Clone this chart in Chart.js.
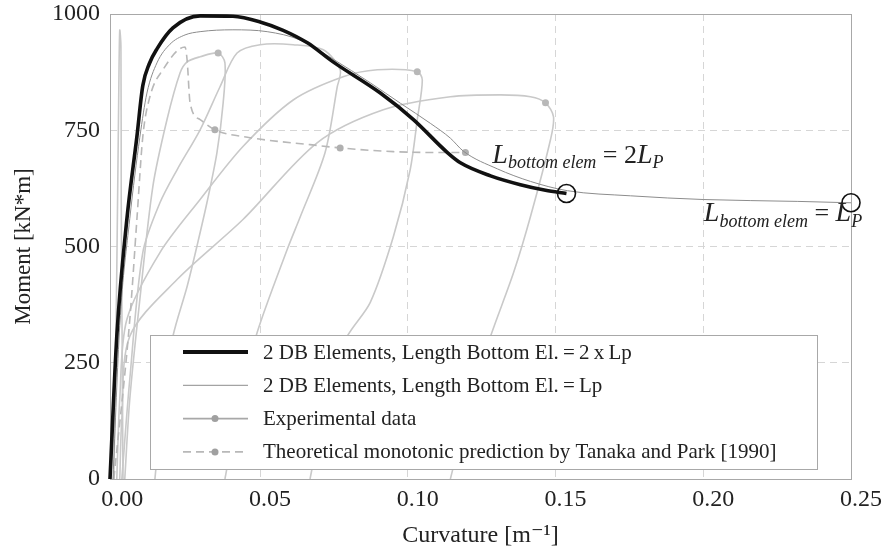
<!DOCTYPE html>
<html>
<head>
<meta charset="utf-8">
<script src="https://cdn.jsdelivr.net/npm/chart.js@4.4.1/dist/chart.umd.min.js"></script>
<style>
html,body{margin:0;padding:0;background:#fff;}
#wrap{width:886px;height:554px;}
</style>
</head>
<body>
<div id="wrap"><canvas id="momentChart" width="886" height="554"></canvas></div>
<script>

const xTicks = [0, 0.05, 0.10, 0.15, 0.20, 0.25];
const yTicks = [0, 250, 500, 750, 1000];

// 2 DB elements, bottom element = 2 x Lp
const twoLpX = [-0.0008, 0.0015, 0.0049, 0.0083, 0.0103, 0.0125, 0.0151, 0.0205, 0.0297, 0.0408, 0.05, 0.0578, 0.066, 0.0747, 0.0907, 0.1019, 0.1134, 0.1178, 0.128, 0.1381, 0.1466, 0.1537];
const twoLpY = [0, 307, 558, 736, 846, 893, 925, 970, 996, 995, 983, 965, 938, 897, 830, 773, 702, 680, 652, 633, 621, 614];

// 2 DB elements, bottom element = Lp
const oneLpX = [0.0002, 0.0025, 0.0059, 0.0093, 0.0117, 0.0151, 0.0195, 0.0246, 0.0297, 0.0408, 0.0524, 0.0636, 0.0747, 0.0873, 0.0975, 0.1076, 0.1144, 0.1188, 0.1303, 0.1415, 0.154, 0.1754, 0.2002, 0.232, 0.25];
const oneLpY = [0, 330, 560, 735, 830, 895, 935, 955, 962, 966, 962, 944, 903, 852, 808, 765, 733, 705, 667, 640, 620, 609, 601, 597, 594];

// Tanaka and Park monotonic prediction
const theoX = [0.0005, 0.0059, 0.0083, 0.0103, 0.0127, 0.0171, 0.0246, 0.0253, 0.0263, 0.0297, 0.0347, 0.0466, 0.0669, 0.0771, 0.0951, 0.1144, 0.1195];
const theoY = [0, 343, 558, 736, 822, 880, 929, 901, 809, 773, 751, 734, 719, 712, 704, 702, 702];
const theoDots = [10, 13, 16];

// experimental cycles (positive branch only)
const expX = [
[0.0005, 0.0015, 0.0022, 0.0025, 0.0029, 0.003, 0.0033, 0.0036],
[0.0042, 0.0059, 0.0093, 0.0137, 0.0185, 0.0229, 0.0253, 0.0297, 0.0358, 0.0381, 0.0375, 0.0354, 0.032, 0.0286, 0.0253, 0.0205, 0.0171, 0.0144],
[0.0032, 0.0059, 0.0103, 0.0161, 0.0219, 0.0297, 0.0364, 0.0422, 0.05, 0.0612, 0.0714, 0.0771, 0.0761, 0.072, 0.0636, 0.0592, 0.049, 0.0432, 0.0381],
[0.0015, 0.0025, 0.0049, 0.0161, 0.0297, 0.0442, 0.0612, 0.0781, 0.0897, 0.1032, 0.1049, 0.1032, 0.1008, 0.0951, 0.0873, 0.0795, 0.0737, 0.0669],
[0.0025, 0.0032, 0.0059, 0.0219, 0.0442, 0.0693, 0.0917, 0.1144, 0.1314, 0.1415, 0.1466, 0.1493, 0.1483, 0.1415, 0.1358, 0.128, 0.1212, 0.1144]
];
const expY = [
[0, 450, 850, 965, 930, 600, 300, 0],
[0, 172, 386, 629, 773, 873, 897, 908, 916, 895, 809, 702, 594, 500, 414, 307, 172, 0],
[0, 215, 487, 594, 665, 751, 843, 916, 934, 934, 923, 880, 843, 702, 564, 494, 315, 172, 0],
[0, 172, 343, 487, 601, 715, 815, 865, 880, 876, 858, 773, 665, 521, 380, 307, 215, 0],
[0, 129, 307, 429, 558, 723, 794, 822, 826, 822, 809, 779, 730, 564, 444, 307, 172, 0]
];
const expDots = [-1, 8, -1, 9, 10];

const legendLabels = [
'2 DB Elements, Length Bottom El.\u2009=\u20092\u2009x\u2009Lp',
'2 DB Elements, Length Bottom El.\u2009=\u2009Lp',
'Experimental data',
'Theoretical monotonic prediction by Tanaka and Park [1990]'
];

const serif = "'Liberation Serif', 'DejaVu Serif', serif";

function toPoints(xs, ys){
let pts = [];
for(let i=0;i<xs.length;i++){
pts.push({x:xs[i], y:ys[i]});
}
return pts;
}

let datasets = [];

datasets.push({
label:legendLabels[0],
data:toPoints(twoLpX,twoLpY),
borderColor:'#111',
borderWidth:3.6,
cubicInterpolationMode:'monotone',
pointRadius:c => c.dataIndex === twoLpX.length-1 ? 9 : 0,
pointBorderColor:'#111',
pointBorderWidth:1.6,
pointBackgroundColor:'rgba(0,0,0,0)',
clip:false,
order:0
});

datasets.push({
label:legendLabels[1],
data:toPoints(oneLpX,oneLpY),
borderColor:'#8c8c8c',
borderWidth:1,
cubicInterpolationMode:'monotone',
pointRadius:c => c.dataIndex === oneLpX.length-1 ? 9 : 0,
pointBorderColor:'#111',
pointBorderWidth:1.6,
pointBackgroundColor:'rgba(0,0,0,0)',
clip:false,
order:1
});

datasets.push({
label:legendLabels[3],
data:toPoints(theoX,theoY),
borderColor:'#b8b8b8',
borderWidth:1.6,
borderDash:[8,5],
cubicInterpolationMode:'monotone',
pointRadius:c => theoDots.includes(c.dataIndex) ? 3.5 : 0,
pointBackgroundColor:'#b0b0b0',
pointBorderWidth:0,
order:2
});

for(let i=0;i<expX.length;i++){
datasets.push({
label:legendLabels[2],
data:toPoints(expX[i],expY[i]),
borderColor:'#c9c9c9',
borderWidth:1.6,
tension:0.3,
pointRadius:c => c.dataIndex === expDots[i] ? 3.5 : 0,
pointBackgroundColor:'#b8b8b8',
pointBorderWidth:0,
order:3
});
}

const frameBox = {
id:'frameBox',
beforeDatasetsDraw(chart){
let a = chart.chartArea;
let ctx = chart.ctx;
ctx.save();
ctx.strokeStyle = '#a8a8a8';
ctx.lineWidth = 1;
ctx.strokeRect(a.left+0.5, a.top+0.5, a.right-a.left, a.bottom-a.top);
ctx.restore();
}
};

const legendBox = {
id:'legendBox',
afterDatasetsDraw(chart){
let a = chart.chartArea;
let ctx = chart.ctx;
let left = a.left+40, right = a.left+707, top = a.bottom-144, bottom = a.bottom-10;
ctx.save();
ctx.fillStyle = '#fff';
ctx.fillRect(left, top, right-left, bottom-top);
ctx.strokeStyle = '#a8a8a8';
ctx.lineWidth = 1;
ctx.strokeRect(left+0.5, top+0.5, right-left, bottom-top);

let rows = [chart.data.datasets[0], chart.data.datasets[1], chart.data.datasets[3], chart.data.datasets[2]];
for(let i=0;i<rows.length;i++){
let ds = rows[i];
let y = top + 17 + i*33.3;
ctx.strokeStyle = i === 2 ? '#a8a8a8' : ds.borderColor;
ctx.lineWidth = i === 0 ? 4 : (i === 1 ? 1 : 1.6);
ctx.setLineDash(ds.borderDash || []);
ctx.beginPath();
ctx.moveTo(left+33, y);
ctx.lineTo(left+98, y);
ctx.stroke();
ctx.setLineDash([]);
if(i >= 2){
ctx.fillStyle = '#a0a0a0';
ctx.beginPath();
ctx.arc(left+65, y, 3.5, 0, Math.PI*2);
ctx.fill();
}
ctx.fillStyle = '#222';
ctx.font = '21px ' + serif;
ctx.textBaseline = 'middle';
ctx.fillText(ds.label, left+113, y+1);
}
ctx.restore();
}
};

function drawRich(ctx, x, y, parts){
let cx = x;
for(let p of parts){
ctx.font = p.font;
ctx.fillText(p.text, cx, y + (p.dy || 0));
cx += ctx.measureText(p.text).width;
}
}

const notes = {
id:'notes',
afterDraw(chart){
let ctx = chart.ctx;
let sx = chart.scales.x, sy = chart.scales.y;
ctx.save();
ctx.fillStyle = '#222';
ctx.textBaseline = 'alphabetic';
let big = 'italic 28px ' + serif, sub = 'italic 18px ' + serif, up = '26px ' + serif;
drawRich(ctx, sx.getPixelForValue(0.1286), sy.getPixelForValue(680), [
{text:'L', font:big},
{text:'bottom elem', font:sub, dy:5},
{text:' = 2', font:up},
{text:'L', font:big},
{text:'P', font:sub, dy:5}
]);
drawRich(ctx, sx.getPixelForValue(0.2002), sy.getPixelForValue(554), [
{text:'L', font:big},
{text:'bottom elem', font:sub, dy:6},
{text:' = ', font:up},
{text:'L', font:big},
{text:'P', font:sub, dy:6}
]);
ctx.restore();
}
};

new Chart(document.getElementById('momentChart'), {
type:'line',
data:{datasets:datasets},
options:{
responsive:false,
animation:false,
devicePixelRatio:1,
layout:{padding:{top:14, right:35, bottom:0, left:0}},
plugins:{legend:{display:false}, tooltip:{enabled:false}},
scales:{
x:{
type:'linear',
min:-0.0008,
max:0.25,
afterBuildTicks:s => { s.ticks = xTicks.map(v => ({value:v})); },
afterFit:s => { s.height = 75; s.paddingLeft = 0; s.paddingRight = 0; },
ticks:{
callback:v => v.toFixed(2),
font:{family:serif, size:24},
color:'#222',
padding:6,
labelOffset:10,
maxRotation:0
},
grid:{
drawTicks:false,
color:c => (c.tick && (c.tick.value === 0 || c.tick.value === 0.25)) ? 'rgba(0,0,0,0)' : '#d6d6d6'
},
border:{display:false, dash:[7,5]},
title:{display:true, text:'Curvature [m\u207B\u00B9]', font:{family:serif, size:24}, color:'#222', padding:{top:0, bottom:4}}
},
y:{
type:'linear',
min:0,
max:1000,
afterBuildTicks:s => { s.ticks = yTicks.map(v => ({value:v})); },
afterFit:s => { s.width = 110; s.paddingTop = 0; s.paddingBottom = 0; },
ticks:{
callback:v => String(v),
font:{family:serif, size:24},
color:'#222',
padding:10
},
grid:{
drawTicks:false,
color:c => (c.tick && (c.tick.value === 0 || c.tick.value === 1000)) ? 'rgba(0,0,0,0)' : '#d6d6d6'
},
border:{display:false, dash:[7,5]},
title:{display:true, text:'Moment [kN*m]', font:{family:serif, size:23}, color:'#222', padding:{top:10, bottom:0}}
}
}
},
plugins:[frameBox, legendBox, notes]
});

</script>
</body>
</html>
